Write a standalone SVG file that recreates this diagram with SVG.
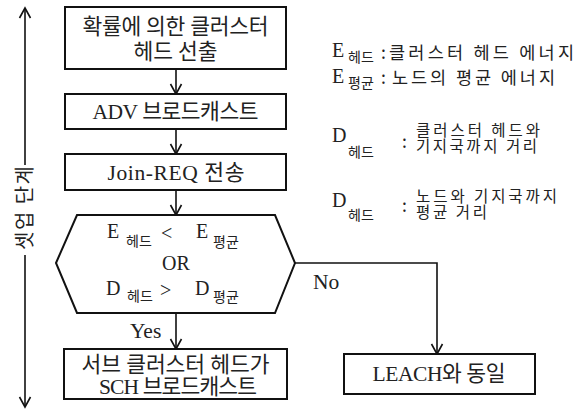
<svg xmlns="http://www.w3.org/2000/svg" width="585" height="410" viewBox="0 0 585 410">
<defs>
<marker id="arr" markerUnits="userSpaceOnUse" markerWidth="14" markerHeight="14" viewBox="0 0 14 14" refX="12" refY="7" orient="auto">
<path d="M2,1.5 L12,7 L2,12.5" fill="none" stroke="#111" stroke-width="1.6"/>
</marker>
<style>
.box{fill:#fff;stroke:#111;stroke-width:2}
.ln{fill:none;stroke:#111;stroke-width:1.6}
.t{font-family:"Liberation Serif","Noto Sans CJK KR",serif;fill:#222;font-size:21.5px}
.k{font-family:"Noto Sans CJK KR","Liberation Serif",sans-serif;fill:#222}
.big{font-family:"Liberation Serif",serif;fill:#222;font-size:20px}
.sub{font-family:"Noto Sans CJK KR",sans-serif;fill:#222;font-size:14px}
.lg{font-family:"Noto Sans CJK KR",sans-serif;fill:#222;font-size:17.5px}
.lg2{font-family:"Noto Sans CJK KR",sans-serif;fill:#222;font-size:15.5px}
</style>
</defs>
<rect width="585" height="410" fill="#fff"/>

<g id="connectors">
<line class="ln" x1="176" y1="69" x2="176" y2="94" marker-end="url(#arr)"/>
<line class="ln" x1="176" y1="129" x2="176" y2="154" marker-end="url(#arr)"/>
<line class="ln" x1="176" y1="190" x2="176" y2="215" marker-end="url(#arr)"/>
<line class="ln" x1="176" y1="313" x2="176" y2="349" marker-end="url(#arr)"/>
<polyline class="ln" points="295,263 437,263 437,354" marker-end="url(#arr)"/>
<text class="t" x="130" y="338" font-size="19">Yes</text>
<text class="t" x="313" y="289" font-size="19">No</text>
</g>

<g id="phase">
<line class="ln" x1="25" y1="165" x2="25" y2="8" marker-end="url(#arr)"/>
<line class="ln" x1="25" y1="255" x2="25" y2="407" marker-end="url(#arr)"/>
<text class="k" font-size="20" text-anchor="middle" transform="translate(32,208) rotate(-90)" textLength="84" lengthAdjust="spacing">셋업 단계</text>
</g>

<g id="n1">
<rect class="box" x="65" y="7" width="221" height="62"/>
<text class="t" x="175.5" y="34" text-anchor="middle" textLength="186" lengthAdjust="spacing">확률에 의한 클러스터</text>
<text class="t" x="175.5" y="59" text-anchor="middle" textLength="84" lengthAdjust="spacing">헤드 선출</text>
</g>

<g id="n2">
<rect class="box" x="65" y="94" width="221" height="35"/>
<text class="t" x="175.5" y="119" text-anchor="middle" textLength="166" lengthAdjust="spacing">ADV 브로드캐스트</text>
</g>

<g id="n3">
<rect class="box" x="65" y="154" width="221" height="36"/>
<text class="t" x="176" y="180" text-anchor="middle" textLength="137" lengthAdjust="spacing">Join-REQ 전송</text>
</g>

<g id="n4">
<polygon class="box" points="56,263 77,215 275,215 295,263 275,313 77,313"/>
<text class="big" x="107" y="238">E</text>
<text class="sub" x="126" y="246">헤드</text>
<text class="big" x="161" y="240" font-size="24">&lt;</text>
<text class="big" x="196" y="238">E</text>
<text class="sub" x="213" y="247" font-size="16">평균</text>
<text class="big" x="176" y="270" text-anchor="middle" font-size="19">OR</text>
<text class="big" x="106" y="295">D</text>
<text class="sub" x="127" y="301">헤드</text>
<text class="big" x="160" y="297" font-size="24">&gt;</text>
<text class="big" x="195" y="295">D</text>
<text class="sub" x="213" y="302" font-size="16">평균</text>
</g>

<g id="n5">
<rect class="box" x="64" y="349" width="223" height="50"/>
<text class="t" x="175.5" y="372" text-anchor="middle" textLength="188" lengthAdjust="spacing">서브 클러스터 헤드가</text>
<text class="t" x="178" y="394" text-anchor="middle" textLength="158" lengthAdjust="spacing">SCH 브로드캐스트</text>
</g>

<g id="n6">
<rect class="box" x="344" y="354" width="191" height="40"/>
<text class="t" x="439" y="381" text-anchor="middle" textLength="133" lengthAdjust="spacing">LEACH와 동일</text>
</g>

<g id="legend">
<text class="big" x="332" y="57">E</text>
<text class="sub" x="348" y="62">헤드</text>
<text class="lg" x="381" y="59">:</text>
<text class="lg" x="389" y="59" textLength="185" lengthAdjust="spacing">클러스터 헤드 에너지</text>

<text class="big" x="332" y="83">E</text>
<text class="sub" x="348" y="88">평균</text>
<text class="lg" x="381" y="84">:</text>
<text class="lg" x="392" y="84" textLength="163" lengthAdjust="spacing">노드의 평균 에너지</text>

<text class="big" x="332" y="142">D</text>
<text class="sub" x="348" y="157">헤드</text>
<text class="lg" x="402" y="148">:</text>
<text class="lg2" x="416" y="136" textLength="124" lengthAdjust="spacing">클러스터 헤드와</text>
<text class="lg2" x="416" y="152" textLength="121" lengthAdjust="spacing">기지국까지 거리</text>

<text class="big" x="332" y="207">D</text>
<text class="sub" x="348" y="220">헤드</text>
<text class="lg" x="402" y="212">:</text>
<text class="lg2" x="416" y="202" textLength="141" lengthAdjust="spacing">노드와 기지국까지</text>
<text class="lg2" x="416" y="218" textLength="71" lengthAdjust="spacing">평균 거리</text>
</g>
</svg>
